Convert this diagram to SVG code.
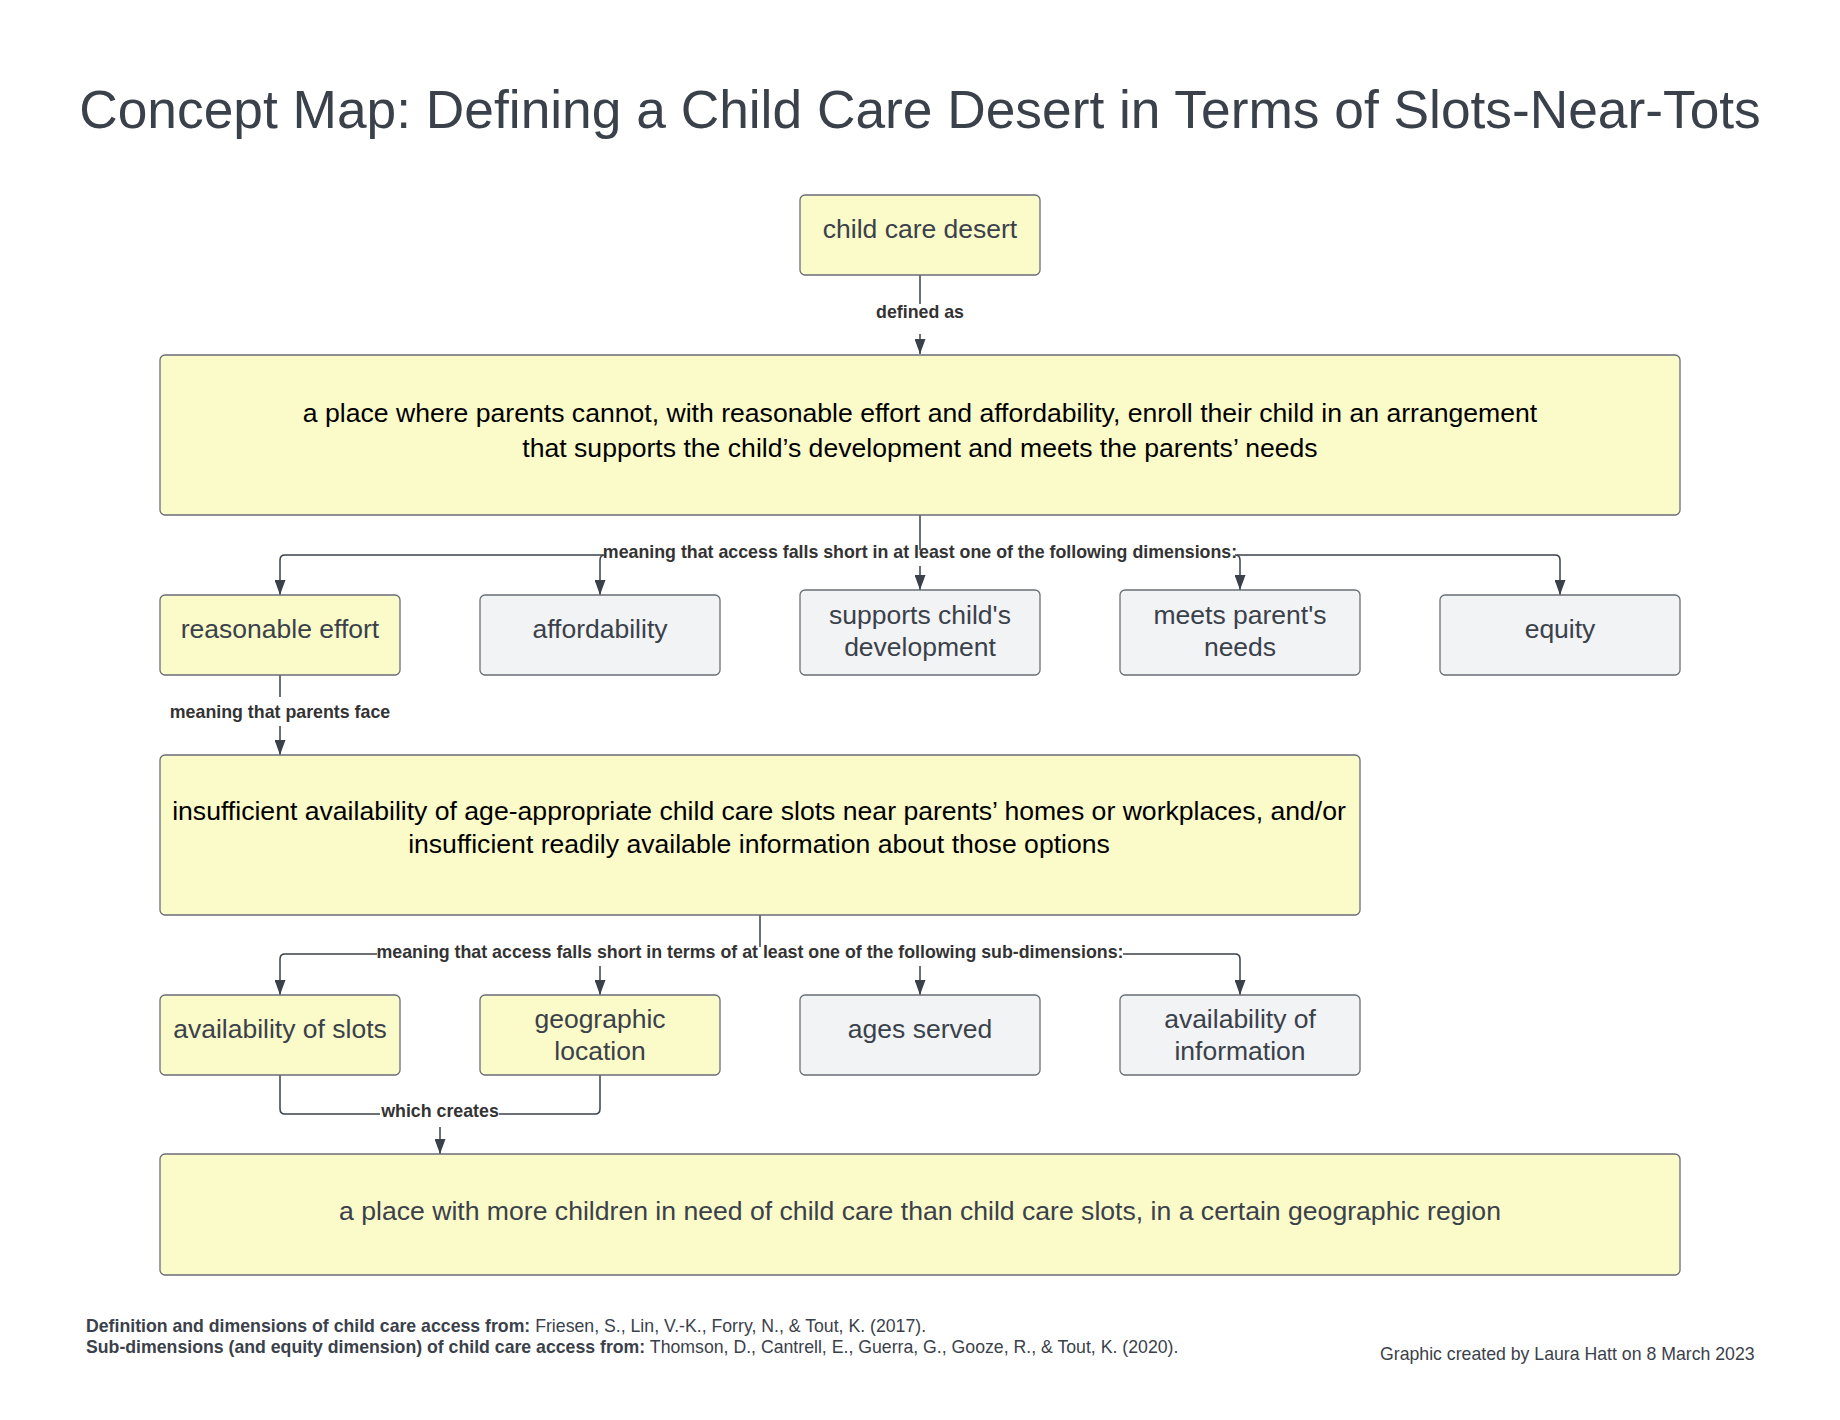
<svg xmlns="http://www.w3.org/2000/svg" width="1840" height="1420" viewBox="0 0 1840 1420">
<style>
.node{stroke:#6a6e75;stroke-width:1.3}
.y{fill:#fbfac9}
.g{fill:#f2f3f5}
.nt{font-family:"Liberation Sans",Arial,sans-serif;font-size:26.5px;fill:#3a414a;text-anchor:middle}
.bt{font-family:"Liberation Sans",Arial,sans-serif;font-size:26.6px;fill:#000;text-anchor:middle}
.lbl{font-family:"Liberation Sans",Arial,sans-serif;font-size:17.8px;font-weight:bold;fill:#333;text-anchor:middle}
.c{fill:none;stroke:#3a414a;stroke-width:1.5}
.foot{font-family:"Liberation Sans",Arial,sans-serif;font-size:17.7px;fill:#3a414a}
</style>
<defs>
<marker id="arr" markerUnits="userSpaceOnUse" markerWidth="15" markerHeight="11" refX="15" refY="5.5" orient="auto">
<path d="M0,0 L15,5.5 L0,11 z" fill="#3a414a"/>
</marker>
</defs>
<rect width="1840" height="1420" fill="#fff"/>
<text x="920" y="128" font-family="Liberation Sans, Arial, sans-serif" font-size="53.3" fill="#3a414a" text-anchor="middle">Concept Map: Defining a Child Care Desert in Terms of Slots-Near-Tots</text>

<g id="connectors">
<path class="c" d="M920 275 V304"/>
<path class="c" d="M920 334 V354" marker-end="url(#arr)"/>
<text class="lbl" x="920" y="318">defined as</text>

<path class="c" d="M920 515 V550"/>
<path class="c" d="M603 555 H285 Q280 555 280 560 V595" marker-end="url(#arr)"/>
<path class="c" d="M605 555 Q600 555 600 560 V595" marker-end="url(#arr)"/>
<path class="c" d="M920 566 V590" marker-end="url(#arr)"/>
<path class="c" d="M1235 555 Q1240 555 1240 560 V590" marker-end="url(#arr)"/>
<path class="c" d="M1237 555 H1555 Q1560 555 1560 560 V595" marker-end="url(#arr)"/>
<text class="lbl" x="920" y="558">meaning that access falls short in at least one of the following dimensions:</text>

<path class="c" d="M280 675 V697"/>
<path class="c" d="M280 726 V755" marker-end="url(#arr)"/>
<text class="lbl" x="280" y="718">meaning that parents face</text>

<path class="c" d="M760 915 V947"/>
<path class="c" d="M377 954 H285 Q280 954 280 959 V995" marker-end="url(#arr)"/>
<path class="c" d="M600 966 V995" marker-end="url(#arr)"/>
<path class="c" d="M920 966 V995" marker-end="url(#arr)"/>
<path class="c" d="M1123 954 H1235 Q1240 954 1240 959 V995" marker-end="url(#arr)"/>
<text class="lbl" x="750" y="958">meaning that access falls short in terms of at least one of the following sub-dimensions:</text>

<path class="c" d="M280 1075 V1109 Q280 1114 285 1114 H380"/>
<path class="c" d="M499 1114 H595 Q600 1114 600 1109 V1075"/>
<path class="c" d="M440 1127 V1154" marker-end="url(#arr)"/>
<text class="lbl" x="440" y="1117">which creates</text>
</g>

<g id="n-desert"><rect class="node y" x="800" y="195" width="240" height="80" rx="5"/><text class="nt" x="920" y="238">child care desert</text></g>

<g id="n-definition"><rect class="node y" x="160" y="355" width="1520" height="160" rx="5"/>
<text class="bt" x="920" y="421.5">a place where parents cannot, with reasonable effort and affordability, enroll their child in an arrangement</text>
<text class="bt" x="920" y="456.5">that supports the child’s development and meets the parents’ needs</text></g>

<g id="n-effort"><rect class="node y" x="160" y="595" width="240" height="80" rx="5"/><text class="nt" x="280" y="638">reasonable effort</text></g>
<g id="n-afford"><rect class="node g" x="480" y="595" width="240" height="80" rx="5"/><text class="nt" x="600" y="638">affordability</text></g>
<g id="n-dev"><rect class="node g" x="800" y="590" width="240" height="85" rx="5"/><text class="nt" x="920" y="623.5">supports child's</text><text class="nt" x="920" y="655.5">development</text></g>
<g id="n-needs"><rect class="node g" x="1120" y="590" width="240" height="85" rx="5"/><text class="nt" x="1240" y="623.5">meets parent's</text><text class="nt" x="1240" y="655.5">needs</text></g>
<g id="n-equity"><rect class="node g" x="1440" y="595" width="240" height="80" rx="5"/><text class="nt" x="1560" y="638">equity</text></g>

<g id="n-insufficient"><rect class="node y" x="160" y="755" width="1200" height="160" rx="5"/>
<text class="bt" x="759" y="820">insufficient availability of age-appropriate child care slots near parents’ homes or workplaces, and/or</text>
<text class="bt" x="759" y="853">insufficient readily available information about those options</text></g>

<g id="n-slots"><rect class="node y" x="160" y="995" width="240" height="80" rx="5"/><text class="nt" x="280" y="1038">availability of slots</text></g>
<g id="n-geo"><rect class="node y" x="480" y="995" width="240" height="80" rx="5"/><text class="nt" x="600" y="1028">geographic</text><text class="nt" x="600" y="1060">location</text></g>
<g id="n-ages"><rect class="node g" x="800" y="995" width="240" height="80" rx="5"/><text class="nt" x="920" y="1038">ages served</text></g>
<g id="n-info"><rect class="node g" x="1120" y="995" width="240" height="80" rx="5"/><text class="nt" x="1240" y="1028">availability of</text><text class="nt" x="1240" y="1060">information</text></g>

<g id="n-result"><rect class="node y" x="160" y="1154" width="1520" height="121" rx="5"/>
<text class="nt" x="920" y="1220" style="font-size:26.6px">a place with more children in need of child care than child care slots, in a certain geographic region</text></g>

<text class="foot" x="86" y="1332"><tspan font-weight="bold">Definition and dimensions of child care access from:</tspan> Friesen, S., Lin, V.-K., Forry, N., &amp; Tout, K. (2017).</text>
<text class="foot" x="86" y="1353"><tspan font-weight="bold">Sub-dimensions (and equity dimension) of child care access from:</tspan> Thomson, D., Cantrell, E., Guerra, G., Gooze, R., &amp; Tout, K. (2020).</text>
<text class="foot" x="1380" y="1360">Graphic created by Laura Hatt on 8 March 2023</text>
</svg>
